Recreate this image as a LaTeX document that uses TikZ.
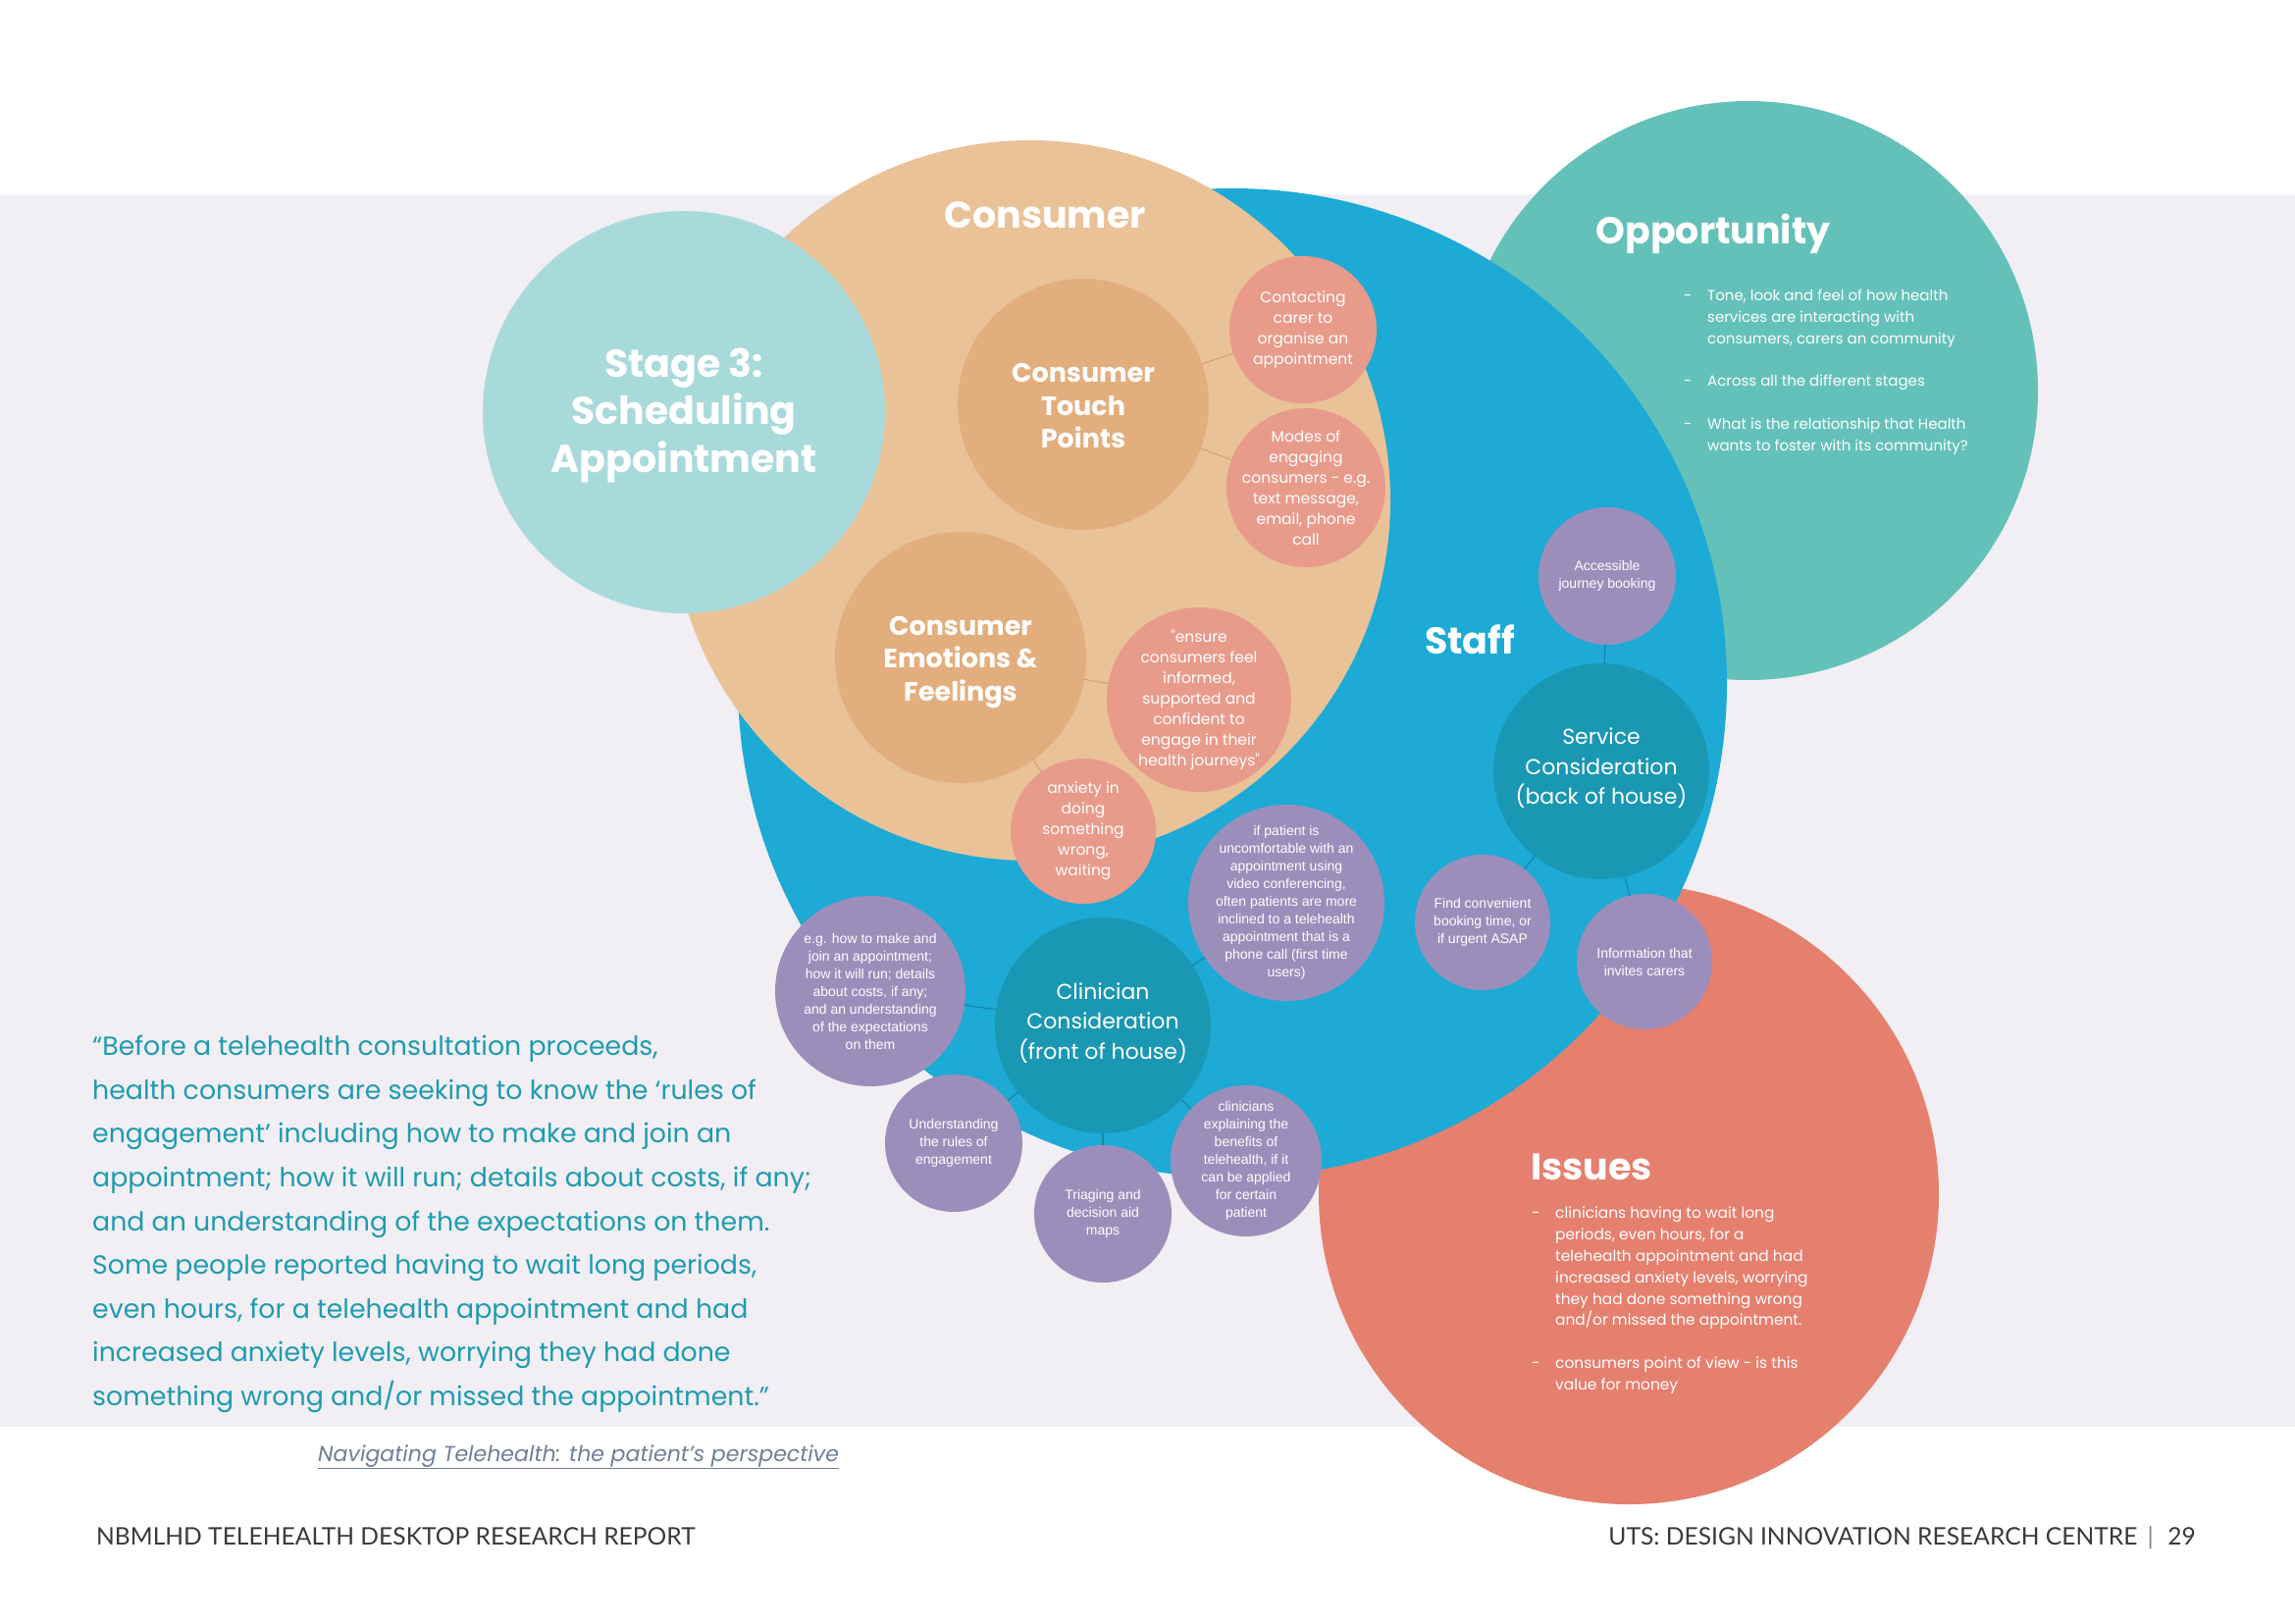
\documentclass[tikz,border=0pt]{standalone}
\usepackage{fontspec}
\newfontfamily\pop{Poppins}
\newfontfamily\lib{Liberation Sans}
\newfontfamily\lato{Lato}
\definecolor{bandC}{HTML}{F1EFF4}
\definecolor{blueC}{HTML}{1DAAD5}
\definecolor{peachC}{HTML}{EAC298}
\definecolor{peachD}{HTML}{E3AE7E}
\definecolor{salC}{HTML}{E89B8B}
\definecolor{stageC}{HTML}{A9DADB}
\definecolor{oppC}{HTML}{64C1B9}
\definecolor{issC}{HTML}{E5806F}
\definecolor{purC}{HTML}{9C8EBB}
\definecolor{tealD}{HTML}{1A97B2}
\definecolor{quoteC}{HTML}{1E9BB0}
\definecolor{citeC}{HTML}{6F7F98}
\definecolor{footC}{HTML}{3A3A3A}
\definecolor{lineP}{HTML}{D6A274}
\definecolor{lineB}{HTML}{1785A3}
\begin{document}
\begin{tikzpicture}[x=1pt,y=-1pt,
  disc/.style={circle,inner sep=0pt,outer sep=0pt,draw=none,minimum size=#1},
  title/.style={text=white,font=\pop\bfseries\fontsize{38}{42}\selectfont,inner sep=0pt},
  headtxt/.style={text=white,align=center,font=\pop\bfseries\fontsize{27}{33.5}\selectfont,inner sep=0pt},
  midtxt/.style={text=white,align=center,font=\pop\fontsize{22}{30.5}\selectfont,inner sep=0pt},
  saltxt/.style={text=white,align=center,font=\pop\fontsize{15.5}{21}\selectfont,inner sep=0pt},
  purtxt/.style={text=white,align=center,font=\lib\fontsize{14}{18}\selectfont,inner sep=0pt},
  bultxt/.style={text=white,align=left,font=\pop\fontsize{15}{21.8}\selectfont,inner sep=0pt},
  isstxt/.style={text=white,align=left,font=\pop\fontsize{15.4}{21.8}\selectfont,inner sep=0pt},
  linkP/.style={draw=lineP,line width=1.2pt},
  linkB/.style={draw=lineB,line width=1.2pt}]
\useasboundingbox (0,0) rectangle (2339,1654);
\fill[white] (0,0) rectangle (2339,1654);
\fill[bandC] (0,198) rectangle (2339,1454);
% big circles
\node[disc=590,fill=oppC] (opp) at (1782,398) {};
\node[disc=632,fill=issC] (iss) at (1660,1217) {};
\node[disc=1008,fill=blueC] (staff) at (1256,696) {};
\node[disc=734,fill=peachC] (cons) at (1050,510) {};
\node[disc=410,fill=stageC] (stage) at (697,420) {};
% consumer sub circles
\node[disc=256,fill=peachD] (touch) at (1104,412) {};
\node[disc=256,fill=peachD] (emo) at (979,670) {};
\node[disc=150,fill=salC] (contact) at (1328,336) {};
\node[disc=162,fill=salC] (modes) at (1331,497) {};
\node[disc=188,fill=salC] (ensure) at (1222,713) {};
\node[disc=148,fill=salC] (anx) at (1104,847) {};
% staff sub circles
\node[disc=140,fill=purC] (access) at (1638,587) {};
\node[disc=220,fill=tealD] (serv) at (1632,786) {};
\node[disc=138,fill=purC] (find) at (1511,940) {};
\node[disc=138,fill=purC] (info) at (1676,980) {};
\node[disc=200,fill=purC] (pat) at (1311,920) {};
\node[disc=220,fill=tealD] (clin) at (1124,1045) {};
\node[disc=194,fill=purC] (eg) at (887,1010) {};
\node[disc=140,fill=purC] (und) at (972,1165) {};
\node[disc=140,fill=purC] (tri) at (1124,1237) {};
\node[disc=154,fill=purC] (expl) at (1270,1183) {};
% connectors
\draw[linkP] (touch) -- (contact);
\draw[linkP] (touch) -- (modes);
\draw[linkP] (emo) -- (ensure);
\draw[linkP] (emo) -- (anx);
\draw[linkB] (serv) -- (access);
\draw[linkB] (serv) -- (find);
\draw[linkB] (serv) -- (info);
\draw[linkB] (clin) -- (pat);
\draw[linkB] (clin) -- (eg);
\draw[linkB] (clin) -- (und);
\draw[linkB] (clin) -- (tri);
\draw[linkB] (clin) -- (expl);
% titles
\node[title] (tcons) at (1065,219) {Consumer};
\node[title] (topp) at (1746,238) {Opportunity};
\node[title] (tstaff) at (1498,652) {Staff};
\node[title] (tiss) at (1622,1189) {Issues};
\node[text=white,align=center,font=\pop\bfseries\fontsize{39.5}{48.5}\selectfont,inner sep=0pt] (tstage) at ([yshift=-3]stage) {Stage 3:\\Scheduling\\Appointment};
\node[headtxt] (ttouch) at ([yshift=-2]touch) {Consumer\\Touch\\Points};
\node[headtxt] (temo) at ([yshift=-5]emo) {Consumer\\Emotions \&\\Feelings};
\node[midtxt] (tserv) at ([yshift=3]serv) {Service\\Consideration\\(back of house)};
\node[midtxt] (tclin) at ([yshift=2.5]clin) {Clinician\\Consideration\\(front of house)};
% salmon texts
\node[saltxt] (tcontact) at (contact) {Contacting\\carer to\\organise an\\appointment};
\node[saltxt] (tmodes) at (modes) {Modes of\\engaging\\consumers - e.g.\\text message,\\email, phone\\call};
\node[saltxt] (tensure) at (ensure) {"ensure\\consumers feel\\informed,\\supported and\\confident to\\engage in their\\health journeys"};
\node[saltxt] (tanx) at (anx) {anxiety in\\doing\\something\\wrong,\\waiting};
% purple texts
\node[purtxt] (taccess) at (access) {Accessible\\journey booking};
\node[purtxt] (tfind) at (find) {Find convenient\\booking time, or\\if urgent ASAP};
\node[purtxt] (tinfo) at (info) {Information that\\invites carers};
\node[purtxt] (tpat) at (pat) {if patient is\\uncomfortable with an\\appointment using\\video conferencing,\\often patients are more\\inclined to a telehealth\\appointment that is a\\phone call (first time\\users)};
\node[purtxt] (teg) at (eg) {e.g. how to make and\\join an appointment;\\how it will run; details\\about costs, if any;\\and an understanding\\of the expectations\\on them};
\node[purtxt] (tund) at (und) {Understanding\\the rules of\\engagement};
\node[purtxt] (ttri) at (tri) {Triaging and\\decision aid\\maps};
\node[purtxt] (texpl) at (expl) {clinicians\\explaining the\\benefits of\\telehealth, if it\\can be applied\\for certain\\patient};
% opportunity bullets
\node[bultxt,anchor=north west] (ob) at (1740,295) {Tone, look and feel of how health\\services are interacting with\\consumers, carers an community\\[21.8pt]Across all the different stages\\[21.8pt]What is the relationship that Health\\wants to foster with its community?};
\node[bultxt,anchor=base west] (od1) at (1716,306) {-};
\node[bultxt,anchor=base west] (od2) at (1716,393) {-};
\node[bultxt,anchor=base west] (od3) at (1716,437) {-};
% issues bullets
\node[isstxt,anchor=north west] (ib) at (1585,1230) {clinicians having to wait long\\periods, even hours, for a\\telehealth appointment and had\\increased anxiety levels, worrying\\they had done something wrong\\and/or missed the appointment.\\[21.8pt]consumers point of view - is this\\value for money};
\node[isstxt,anchor=base west] (id1) at (1561,1241) {-};
\node[isstxt,anchor=base west] (id2) at (1561,1394) {-};
% quote
\node[anchor=north west,align=left,text=quoteC,inner sep=0pt,font=\pop\fontsize{26.8}{44.6}\selectfont] (quote) at (94,1055) {“Before a telehealth consultation proceeds,\\health consumers are seeking to know the ‘rules of\\engagement’ including how to make and join an\\appointment; how it will run; details about costs, if any;\\and an understanding of the expectations on them.\\Some people reported having to wait long periods,\\even hours, for a telehealth appointment and had\\increased anxiety levels, worrying they had done\\something wrong and/or missed the appointment.”};
\node[anchor=base west,text=citeC,inner sep=0pt,font=\pop\itshape\fontsize{22.1}{26}\selectfont] (cite) at (324,1489) {\underline{Navigating Telehealth: the patient’s perspective}};
% footer
\node[anchor=base west,text=footC,inner sep=0pt,font=\lato\fontsize{24.6}{28}\selectfont] (footl) at (98,1574) {NBMLHD TELEHEALTH DESKTOP RESEARCH REPORT};
\node[anchor=base east,text=footC,inner sep=0pt,font=\lato\fontsize{24.6}{28}\selectfont] (footr) at (2238,1574) {UTS: DESIGN INNOVATION RESEARCH CENTRE \,{\color{gray}|}\,\, 29};
\end{tikzpicture}
\end{document}
